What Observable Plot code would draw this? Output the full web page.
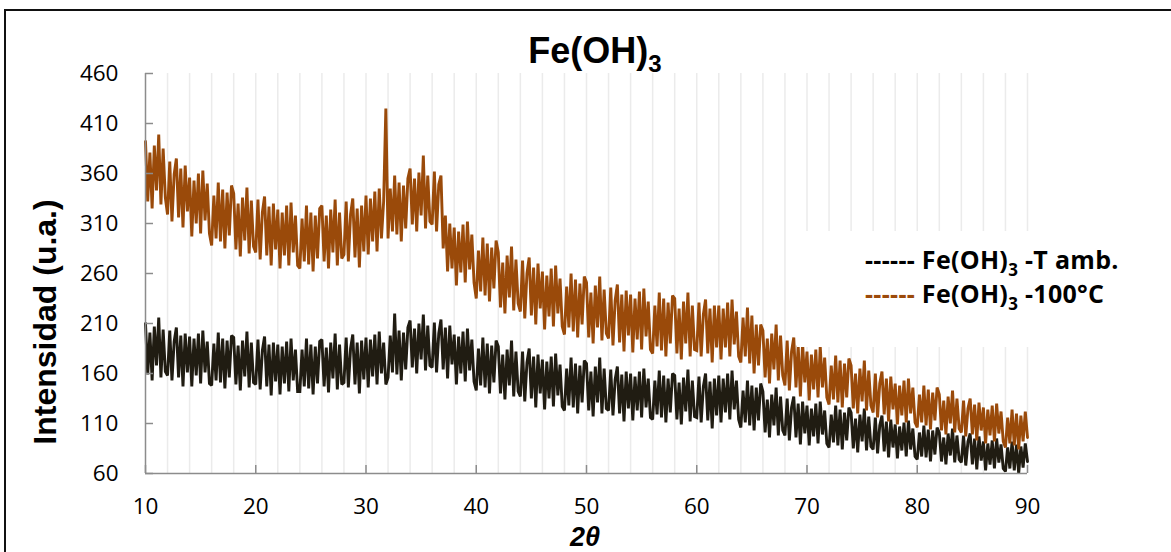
<!DOCTYPE html>
<html>
<head>
<meta charset="utf-8">
<script src="https://cdn.jsdelivr.net/npm/d3@7"></script>
<script src="https://cdn.jsdelivr.net/npm/@observablehq/plot@0.6"></script>
<style>
  html, body { margin: 0; padding: 0; background: #fff; }
  body { width: 1171px; height: 552px; overflow: hidden; position: relative; }
  #frame { position: absolute; left: 4px; top: 9px; width: 1400px; height: 800px; border: 2px solid #111; box-sizing: border-box; }
  #chart { position: absolute; left: 0; top: 0; }
  #overlay { position: absolute; left: 0; top: 0; }
</style>
</head>
<body>
<div id="frame"></div>
<div id="chart"></div>
<svg id="overlay" width="1171" height="552" xmlns="http://www.w3.org/2000/svg">
  <text x="595" y="63" text-anchor="middle" font-family="'Liberation Sans', Arial, sans-serif" font-weight="bold" font-size="36" fill="#000">Fe(OH)<tspan font-size="24" dy="9">3</tspan></text>
  <text transform="translate(56,322) rotate(-90)" text-anchor="middle" font-family="'Liberation Sans', Arial, sans-serif" font-weight="bold" font-size="32" fill="#000">Intensidad (u.a.)</text>
  <text x="585" y="546" text-anchor="middle" font-family="'Liberation Sans', Arial, sans-serif" font-weight="bold" font-style="italic" font-size="27" fill="#000">2θ</text>
  <rect x="797" y="231" width="370" height="116" fill="#fff"></rect>
  <g font-family="'Open Sans', sans-serif" font-weight="bold" font-size="25" letter-spacing="0.3" fill="#000">
    <text x="865" y="269"><tspan fill="#000">------</tspan> Fe(OH)<tspan font-size="17" dy="7">3</tspan><tspan dy="-7"> -T amb.</tspan></text>
    <text x="865" y="303"><tspan fill="#9c4a0a">------</tspan> Fe(OH)<tspan font-size="17" dy="7">3</tspan><tspan dy="-7"> -100°C</tspan></text>
  </g>
</svg>
<script>
// 2θ sampling grid
const xStart = 10;
const xStep = 0.2;

// Fe(OH)3 - T amb. (black), one row per 2 degrees
const tAmb = [
  210,159,201,153,207,168,216,156,204,162,
  158,203,153,192,206,156,198,147,200,161,
  197,147,195,158,200,150,203,161,192,150,
  148,190,153,201,151,195,145,193,156,198,
  196,149,188,143,193,157,202,146,191,151,
  149,194,144,183,197,147,189,138,191,152,
  189,139,187,150,192,142,195,153,184,142,
  142,184,147,195,145,189,139,187,150,192,
  194,147,186,141,191,155,200,144,189,149,
  151,196,146,185,199,149,191,140,193,154,
  196,146,194,157,199,149,202,160,191,149,
  156,198,161,220,159,203,153,201,164,206,
  213,166,205,160,210,174,219,163,208,168,
  166,211,161,200,214,164,206,155,208,169,
  199,149,197,160,202,152,205,163,194,152,
  143,185,148,196,146,190,140,188,151,193,
  187,140,179,134,184,148,193,137,182,142,
  137,182,132,171,185,135,177,126,179,140,
  174,124,172,135,177,127,180,138,169,127,
  123,165,128,176,126,170,120,168,131,173,
  170,123,162,117,167,131,176,120,165,125,
  123,164,118,154,167,120,159,112,162,125,
  160,113,157,123,162,116,165,126,155,116,
  114,153,119,163,116,158,111,155,121,160,
  158,114,151,109,156,122,164,112,153,117,
  116,157,111,147,160,113,152,105,155,118,
  158,111,155,121,160,114,163,124,153,114,
  106,143,111,153,108,148,103,146,113,150,
  142,101,134,96,139,108,146,98,137,103,
  98,135,93,126,137,96,130,89,132,100,
  128,88,125,97,130,90,132,99,123,90,
  86,119,91,128,88,124,84,121,93,126,
  121,85,115,81,119,92,125,83,117,87,
  84,116,80,108,118,82,112,76,114,86,
  109,75,107,83,111,77,113,84,105,77,
  74,101,77,108,76,104,72,103,79,106,
  101,72,96,69,100,78,105,71,98,74,
  71,98,68,92,100,69,95,64,97,73,
  92,63,90,69,93,65,95,71,89,65,
  62,86,65,92,63,89,60,87,66,90,
  72
];

// Fe(OH)3 - 100°C (brown)
const t100 = [
  392,332,381,325,388,343,399,329,385,336,
  319,372,312,359,375,316,365,306,368,322,
  356,297,353,310,360,300,363,313,350,300,
  288,338,295,351,292,344,285,341,298,348,
  340,284,330,277,336,293,346,280,333,287,
  281,334,274,321,337,278,327,268,330,284,
  324,265,321,278,328,268,331,281,318,268,
  265,315,272,328,269,321,262,318,275,325,
  328,272,318,265,324,281,334,268,321,275,
  279,332,272,319,335,276,325,266,328,282,
  338,279,335,292,342,282,345,295,332,425,
  295,345,302,358,299,351,292,348,305,355,
  365,309,355,302,361,318,378,305,358,312,
  309,362,302,349,358,285,318,262,310,265,
  306,248,302,261,309,251,312,264,299,251,
  235,283,242,296,238,290,232,286,245,293,
  281,226,271,220,278,236,287,223,274,230,
  222,273,215,260,276,218,266,209,270,225,
  262,204,258,217,265,207,268,220,255,207,
  199,247,206,260,202,254,196,250,209,257,
  251,196,241,190,248,206,257,193,244,200,
  195,246,188,233,249,191,239,182,243,198,
  239,181,235,194,242,184,245,197,232,184,
  180,228,187,241,183,235,177,231,190,238,
  235,180,225,174,232,190,241,177,228,184,
  183,231,177,219,234,180,225,171,228,186,
  228,174,225,186,231,177,234,189,222,177,
  171,216,177,226,170,218,160,209,168,209,
  203,156,195,150,200,164,209,153,198,158,
  148,193,143,182,196,146,188,137,190,151,
  182,133,179,144,184,136,187,146,176,136,
  129,168,134,178,131,173,126,170,136,175,
  168,125,160,120,165,132,173,123,163,128,
  121,160,116,150,162,119,155,112,157,124,
  150,109,148,118,153,111,155,120,146,111,
  106,139,111,148,108,144,104,141,113,146,
  139,103,133,99,137,110,143,101,135,105,
  101,133,97,125,135,99,129,93,131,103,
  126,90,124,98,128,92,130,100,122,92,
  86,116,90,124,88,120,84,118,92,122,
  96
];

const yTicks = [60, 110, 160, 210, 260, 310, 360, 410, 460];
const xTicks = [10, 20, 30, 40, 50, 60, 70, 80, 90];
const gridX = [12,14,16,18,20,22,24,26,28,30,32,34,36,38,40,42,44,46,48,50,52,54,56,58,60,62,64,66,68,70,72,74,76,78,80,82,84,86,88,90];

const toRows = arr => arr.map((v, i) => ({x: +(xStart + i * xStep).toFixed(1), y: v}));
const blackData = toRows(tAmb);
const brownData = toRows(t100);

const W = 1171, H = 552, mL = 145, mR = 144, mT = 73, mB = 79;
const plotW = W - mL - mR, plotH = H - mT - mB;
const axisGrey = "#8c8c8c";

const chart = Plot.plot({
  width: W, height: H,
  marginLeft: mL, marginRight: mR, marginTop: mT, marginBottom: mB,
  x: {domain: [10, 90]},
  y: {domain: [60, 460]},
  style: {fontFamily: "'Open Sans', sans-serif", fontSize: "22.5px", color: "#000", background: "transparent", overflow: "visible"},
  marks: [
    Plot.ruleX(gridX, {x: d => d, stroke: "#ebebeb", strokeWidth: 1.5}),
    Plot.line(blackData, {x: "x", y: "y", stroke: "#201c12", strokeWidth: 2.9, strokeLinejoin: "miter", strokeMiterlimit: 2}),
    Plot.line(brownData, {x: "x", y: "y", stroke: "#9a4a0a", strokeWidth: 2.9, strokeLinejoin: "miter", strokeMiterlimit: 2}),
    Plot.ruleX([10], {x: d => d, stroke: axisGrey, strokeWidth: 1.5}),
    Plot.ruleY([60], {y: d => d, stroke: axisGrey, strokeWidth: 1.5}),
    Plot.ruleY(yTicks, {y: d => d, insetRight: plotW - 8, stroke: axisGrey, strokeWidth: 1.5}),
    Plot.ruleX(xTicks, {x: d => d, insetTop: plotH - 8, stroke: axisGrey, strokeWidth: 1.5}),
    Plot.axisY({ticks: yTicks, tickSize: 0, tickPadding: 27, tickFormat: d => String(d), label: null}),
    Plot.axisX({ticks: xTicks, tickSize: 0, tickPadding: 25, tickFormat: d => String(d), label: null})
  ]
});
document.getElementById("chart").appendChild(chart);
</script>
</body>
</html>
